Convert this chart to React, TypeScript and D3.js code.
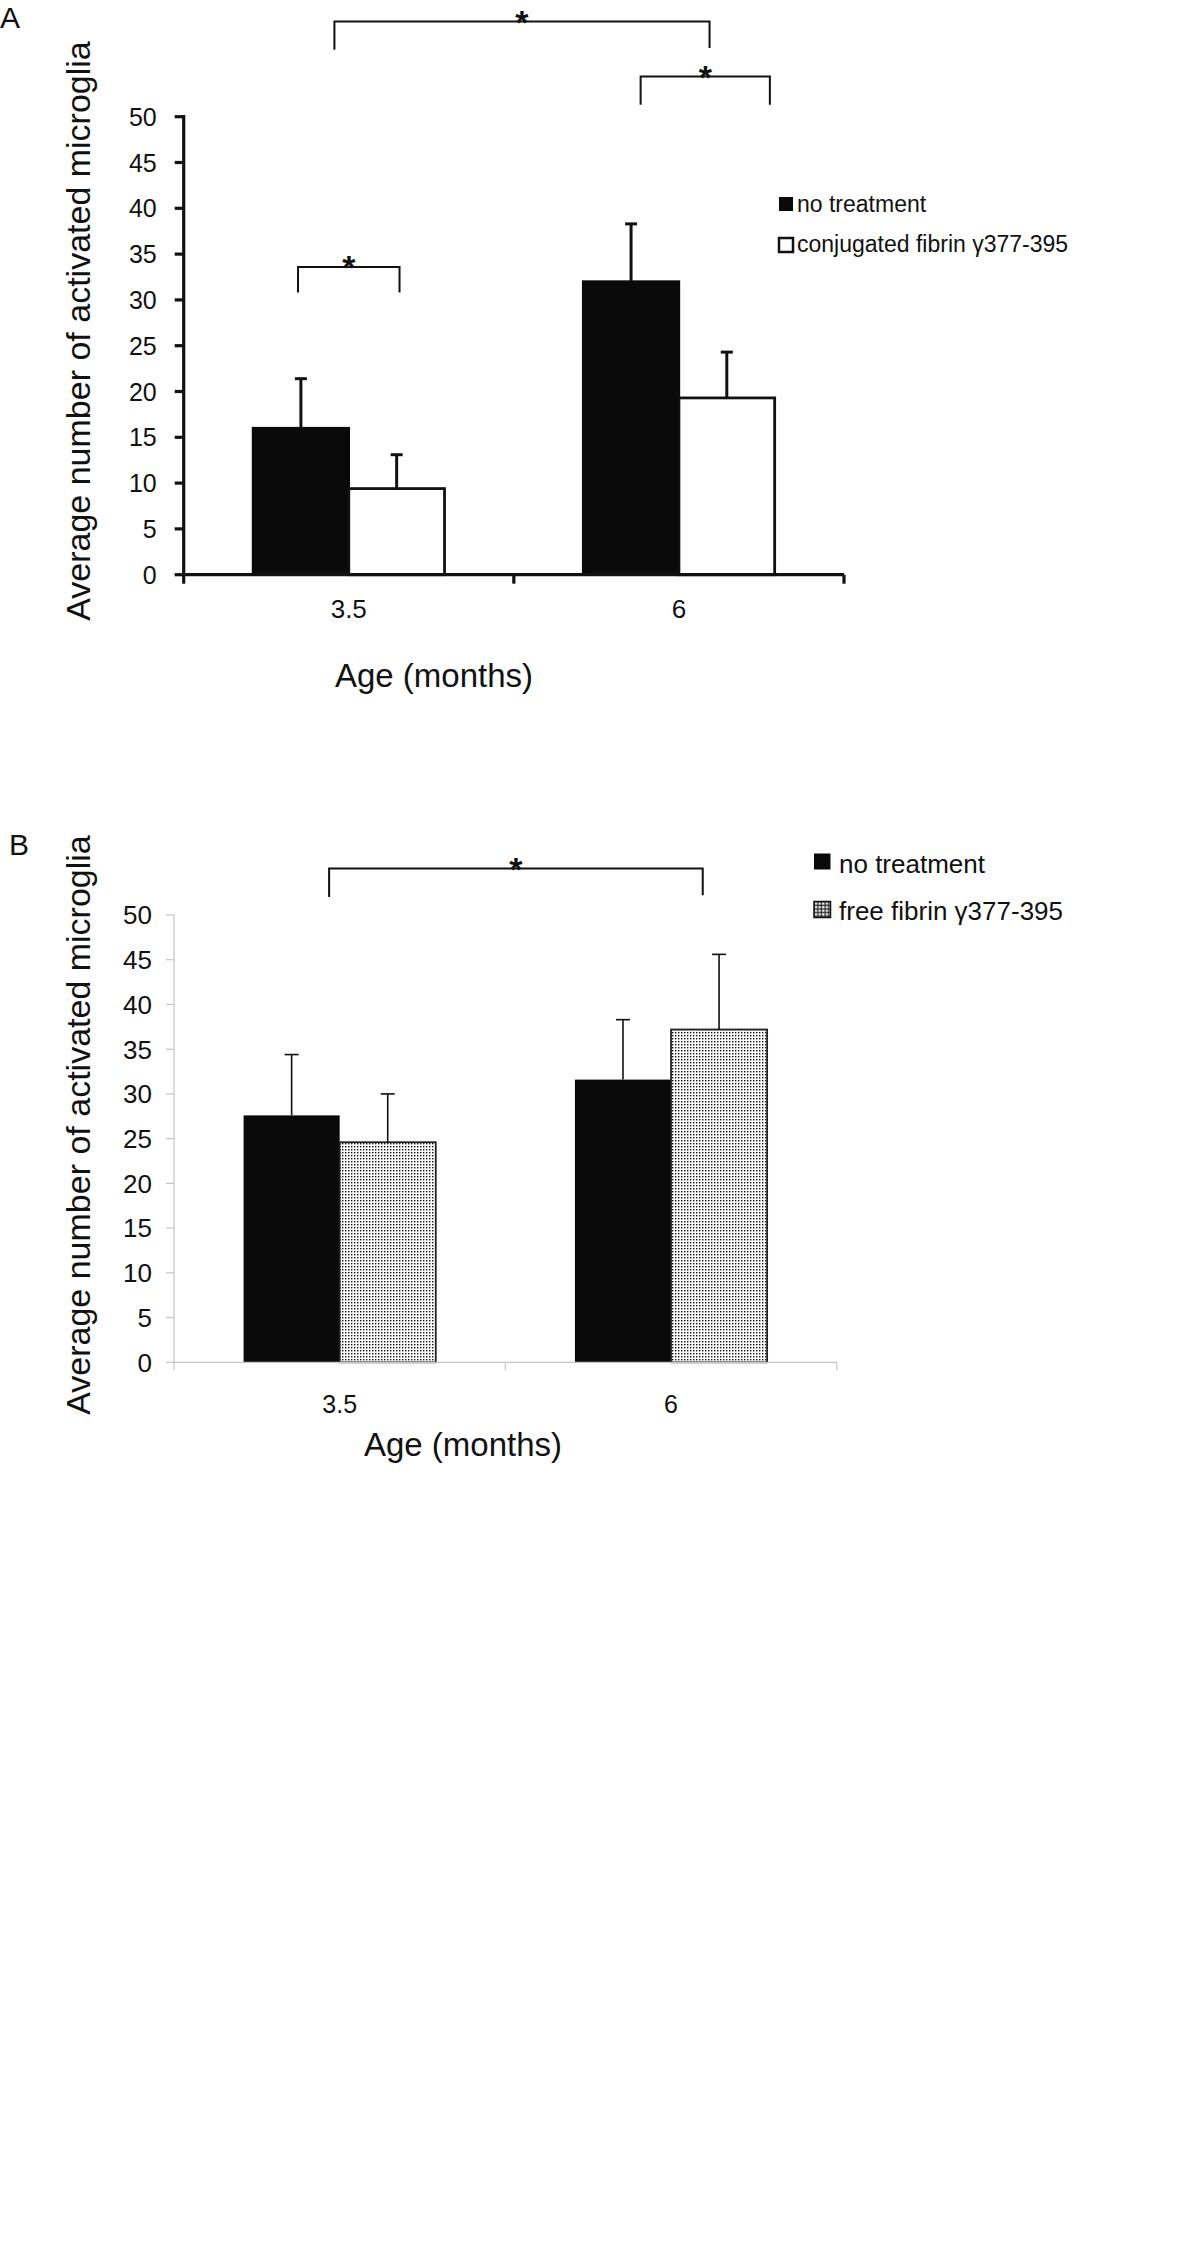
import React from "react";
import * as d3 from "d3";

// ---------- data ----------
const categories = ["3.5", "6"];
const yTicks = [0, 5, 10, 15, 20, 25, 30, 35, 40, 45, 50];
const yTitle = "Average number of activated microglia";
const xTitle = "Age (months)";

const seriesA = ["no treatment", "conjugated fibrin γ377-395"];
const aNoTreatMean = [16.0, 32.0];
const aNoTreatErr = [5.4, 6.3];
const aConjMean = [9.4, 19.3];
const aConjErr = [3.7, 5.0];

const seriesB = ["no treatment", "free fibrin γ377-395"];
const bNoTreatMean = [27.6, 31.6];
const bNoTreatErr = [6.8, 6.7];
const bFreeMean = [24.6, 37.2];
const bFreeErr = [5.4, 8.4];

// significance brackets: endpoints as (category, offset in bar widths from group centre)
const bracketsA = [
  { c1: "3.5", o1: -0.53, c2: "3.5", o2: 0.53, top: 33.6, leg1: 30.8, leg2: 30.8 },
  { c1: "3.5", o1: -0.15, c2: "6", o2: 0.32, top: 60.4, leg1: 57.3, leg2: 57.5 },
  { c1: "6", o1: -0.4, c2: "6", o2: 0.95, top: 54.4, leg1: 51.3, leg2: 51.3 },
];
const bracketsB = [
  { c1: "3.5", o1: -0.11, c2: "6", o2: 0.33, top: 55.2, leg1: 52.0, leg2: 52.2 },
];

const FONT = "'Liberation Sans', Arial, Helvetica, sans-serif";

type Layout = {
  x0: number; x1: number; y0: number; y1: number;
  axisColor: string; axisW: number; tickOut: number;
  tickFont: number; tickLabelGap: number;
  xLabelFont: number; xLabelBase: number;
  xTitleX: number; xTitleBase: number;
  yTitleX: number; yTitleY: number;
  errW: number; capW: number; barStroke: number[];
  starFont: number;
  letter: string; letterX: number; letterY: number;
  legX: number; legTextX: number; legY: number[]; legBase: number[]; legFont: number; legW: number; legH: number;
  legFills: string[]; legStroke: number[];
};

function Panel({ L, means, errs, series, fills, strokes, brackets }: any) {
  const lay: Layout = L;
  const x = d3.scaleBand().domain(categories).range([lay.x0, lay.x1]).padding(0);
  const y = d3.scaleLinear().domain([0, 50]).range([lay.y0, lay.y1]);
  const bw = x.bandwidth() * 0.29;
  const center = (c: string) => (x(c) as number) + x.bandwidth() / 2;
  const boundaries = [lay.x0, ...categories.map((c) => (x(c) as number) + x.bandwidth())];

  return (
    <g fontFamily={FONT} fill="#111">
      <text x={lay.letterX} y={lay.letterY} fontSize={30}>{lay.letter}</text>

      {/* y axis */}
      <line x1={lay.x0} x2={lay.x0} y1={y(0)} y2={y(50) - lay.axisW / 2} stroke={lay.axisColor} strokeWidth={lay.axisW} />
      {yTicks.map((t) => (
        <g key={t}>
          <line x1={lay.x0 - lay.tickOut} x2={lay.x0} y1={y(t)} y2={y(t)} stroke={lay.axisColor} strokeWidth={lay.axisW} />
          <text x={lay.x0 - lay.tickLabelGap} y={y(t)} dy="0.36em" textAnchor="end" fontSize={lay.tickFont}>{t}</text>
        </g>
      ))}

      {/* bars */}
      {categories.map((c, ci) =>
        series.map((s: string, si: number) => {
          const bx = center(c) - bw + si * bw;
          return (
            <rect key={c + s} x={bx} y={y(means[si][ci])} width={bw} height={y(0) - y(means[si][ci])}
              fill={fills[si]} stroke={strokes[si]} strokeWidth={lay.barStroke[si]} />
          );
        })
      )}
      {/* error bars */}
      {categories.map((c, ci) =>
        series.map((s: string, si: number) => {
          const cx = center(c) - bw / 2 + si * bw;
          const top = y(means[si][ci] + errs[si][ci]);
          return (
            <g key={"e" + c + s} stroke="#111" strokeWidth={lay.errW}>
              <line x1={cx} x2={cx} y1={y(means[si][ci])} y2={top} />
              <line x1={cx - lay.capW / 2} x2={cx + lay.capW / 2} y1={top} y2={top} />
            </g>
          );
        })
      )}

      {/* x axis */}
      <line x1={lay.x0 - lay.axisW / 2} x2={lay.x1} y1={y(0)} y2={y(0)} stroke={lay.axisColor} strokeWidth={lay.axisW} />
      {boundaries.map((b, i) => (
        <line key={i} x1={b} x2={b} y1={y(0)} y2={y(0) + lay.tickOut} stroke={lay.axisColor} strokeWidth={lay.axisW} />
      ))}
      {categories.map((c) => (
        <text key={c} x={center(c)} y={lay.xLabelBase} textAnchor="middle" fontSize={lay.xLabelFont}>{c}</text>
      ))}
      <text x={lay.xTitleX} y={lay.xTitleBase} textAnchor="middle" fontSize={33}>{xTitle}</text>
      <text transform={`translate(${lay.yTitleX},${lay.yTitleY}) rotate(-90)`} textAnchor="middle" fontSize={34}>{yTitle}</text>

      {/* significance brackets */}
      {brackets.map((b: any, i: number) => {
        const xa = center(b.c1) + b.o1 * bw;
        const xb = center(b.c2) + b.o2 * bw;
        const yt = y(b.top);
        return (
          <g key={"b" + i}>
            <path d={`M${xa},${y(b.leg1)}V${yt}H${xb}V${y(b.leg2)}`} fill="none" stroke="#111" strokeWidth={2} />
            <text x={(xa + xb) / 2} y={yt - 2 + 0.42 * lay.starFont} textAnchor="middle" fontWeight="bold" fontSize={lay.starFont}>*</text>
          </g>
        );
      })}

      {/* legend */}
      {series.map((s: string, si: number) => (
        <g key={"l" + s}>
          <rect x={lay.legX} y={lay.legY[si]} width={lay.legW} height={lay.legH} fill={lay.legFills[si]} stroke="#111" strokeWidth={lay.legStroke[si]} />
          <text x={lay.legTextX} y={lay.legBase[si]} fontSize={lay.legFont}>{s}</text>
        </g>
      ))}
    </g>
  );
}

const layoutA: Layout = {
  x0: 183.7, x1: 844, y0: 574.7, y1: 116.7,
  axisColor: "#111", axisW: 3.2, tickOut: 9,
  tickFont: 25, tickLabelGap: 27,
  xLabelFont: 26, xLabelBase: 618,
  xTitleX: 434, xTitleBase: 687,
  yTitleX: 90, yTitleY: 331,
  errW: 3, capW: 12, barStroke: [2.5, 2.8],
  starFont: 34,
  letter: "A", letterX: 0, letterY: 28,
  legX: 779, legTextX: 797, legY: [197, 238], legBase: [212, 252], legFont: 23, legW: 14, legH: 14,
  legFills: ["#0a0a0a", "#fff"], legStroke: [0, 2.5],
};

const layoutB: Layout = {
  x0: 174, x1: 836.7, y0: 1362.3, y1: 915,
  axisColor: "#c4c4c4", axisW: 1.2, tickOut: 8,
  tickFont: 26, tickLabelGap: 22,
  xLabelFont: 25, xLabelBase: 1413,
  xTitleX: 463, xTitleBase: 1456,
  yTitleX: 90, yTitleY: 1125,
  errW: 1.6, capW: 14, barStroke: [0, 1.8],
  starFont: 34,
  letter: "B", letterX: 9, letterY: 855,
  legX: 814, legTextX: 839, legY: [853.5, 901.5], legBase: [873, 920], legFont: 26, legW: 16.5, legH: 16,
  legFills: ["#0a0a0a", "url(#grid)"], legStroke: [0, 1.5],
};

export default function App() {
  return (
    <svg width={1200} height={2268} viewBox="0 0 1200 2268" style={{ position: "absolute", left: 0, top: 0, background: "#fff" }}>
      <defs>
        <pattern id="dots" width={3} height={3} patternUnits="userSpaceOnUse">
          <rect width={3} height={3} fill="#fff" />
          <rect width={1.4} height={1.4} fill="#111" />
        </pattern>
        <pattern id="grid" width={3.6} height={3.6} patternUnits="userSpaceOnUse" x={814} y={901.5}>
          <rect width={3.6} height={3.6} fill="#333" />
          <rect x={1} y={1} width={2.2} height={2.2} fill="#fff" />
        </pattern>
      </defs>
      <rect width={1200} height={2268} fill="#fff" />
      <Panel L={layoutA} series={seriesA}
        means={[aNoTreatMean, aConjMean]} errs={[aNoTreatErr, aConjErr]}
        fills={["#0a0a0a", "#fff"]} strokes={["#0a0a0a", "#111"]} brackets={bracketsA} />
      <Panel L={layoutB} series={seriesB}
        means={[bNoTreatMean, bFreeMean]} errs={[bNoTreatErr, bFreeErr]}
        fills={["#0a0a0a", "url(#dots)"]} strokes={["#0a0a0a", "#222"]} brackets={bracketsB} />
    </svg>
  );
}
